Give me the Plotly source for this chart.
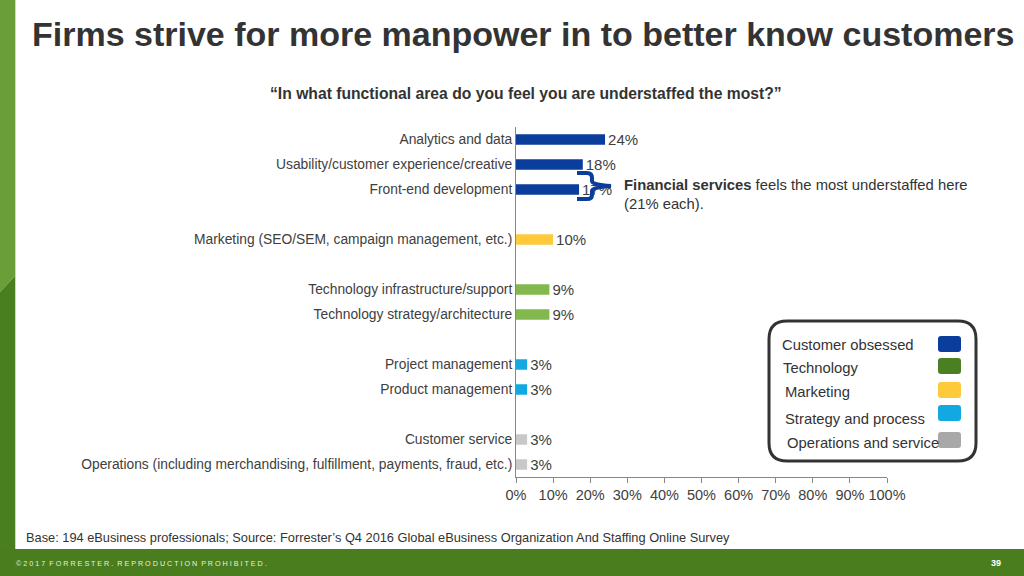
import plotly.graph_objects as go

# survey answers, top to bottom
categories = [
    "Analytics and data",
    "Usability/customer experience/creative",
    "Front-end development",
    "Marketing (SEO/SEM, campaign management, etc.)",
    "Technology infrastructure/support",
    "Technology strategy/architecture",
    "Project management",
    "Product management",
    "Customer service",
    "Operations (including merchandising, fulfillment, payments, fraud, etc.)",
]
values = [24, 18, 17, 10, 9, 9, 3, 3, 3, 3]
# 0 customer obsessed, 1 technology, 2 marketing, 3 strategy, 4 operations
groups = [0, 0, 0, 2, 1, 1, 3, 3, 4, 4]

group_names = ["Customer obsessed", "Technology", "Marketing",
               "Strategy and process", "Operations and service"]
bar_colors = ["#0a3d9c", "#82b84e", "#ffc93c", "#12a8e2", "#c8c8c8"]
legend_colors = ["#0a3d9c", "#4a7f22", "#ffc93c", "#12a8e2", "#a8a8a8"]

x_ticks = list(range(0, 101, 10))

W, H = 1024, 576


def px(x):
    return x / W


def py(y):
    return 1 - y / H


def rounded_rect(x0, y0, x1, y1, r):
    return (f"M {px(x0 + r)},{py(y0)} L {px(x1 - r)},{py(y0)} "
            f"Q {px(x1)},{py(y0)} {px(x1)},{py(y0 + r)} "
            f"L {px(x1)},{py(y1 - r)} Q {px(x1)},{py(y1)} {px(x1 - r)},{py(y1)} "
            f"L {px(x0 + r)},{py(y1)} Q {px(x0)},{py(y1)} {px(x0)},{py(y1 - r)} "
            f"L {px(x0)},{py(y0 + r)} Q {px(x0)},{py(y0)} {px(x0 + r)},{py(y0)} Z")


# rows: one empty slot between groups
y_pos = []
row = 0
for i, g in enumerate(groups):
    if i > 0 and g != groups[i - 1]:
        row += 1
    y_pos.append(row)
    row += 1
n_rows = row

fig = go.Figure()
fig.add_trace(go.Bar(
    x=values, y=y_pos, orientation="h",
    marker=dict(color=[bar_colors[g] for g in groups], line=dict(width=0)),
    width=0.42,
    text=[f"{v}%" for v in values], textposition="outside", constraintext="none",
    textfont=dict(size=15, color="#404040", family="Liberation Sans"),
    cliponaxis=False, showlegend=False,
))

shapes = []
# left stripe and bottom band
shapes.append(dict(type="path", xref="paper", yref="paper", layer="below",
                   path=f"M 0,1 L {px(15)},1 L {px(15)},{py(276)} L 0,{py(292)} Z",
                   fillcolor="#6a9e38", line=dict(width=0)))
shapes.append(dict(type="path", xref="paper", yref="paper", layer="below",
                   path=f"M 0,{py(292)} L {px(15)},{py(276)} L {px(15)},0 L 0,0 Z",
                   fillcolor="#4a7f1f", line=dict(width=0)))
shapes.append(dict(type="rect", xref="paper", yref="paper", layer="below",
                   x0=px(15), x1=px(16), y0=py(549), y1=1,
                   fillcolor="#c9ddb4", line=dict(width=0)))
shapes.append(dict(type="rect", xref="paper", yref="paper", layer="below",
                   x0=0, x1=1, y0=0, y1=py(549),
                   fillcolor="#4a7d1e", line=dict(width=0)))

# curly brace over the financial services rows
brace = (f"M {px(577)},{py(173)} L {px(587)},{py(173)} "
         f"Q {px(592)},{py(173)} {px(592)},{py(178)} L {px(592)},{py(181)} "
         f"Q {px(592)},{py(185)} {px(611)},{py(186)} "
         f"Q {px(592)},{py(187)} {px(592)},{py(191)} L {px(592)},{py(195)} "
         f"Q {px(592)},{py(199)} {px(587)},{py(199)} L {px(577)},{py(199)}")
shapes.append(dict(type="path", xref="paper", yref="paper", path=brace,
                   line=dict(color="#0a3d9c", width=4)))

# legend box
shapes.append(dict(type="path", xref="paper", yref="paper",
                   path=rounded_rect(769, 321, 976, 461, 18),
                   line=dict(color="#333333", width=3), fillcolor="rgba(0,0,0,0)"))

annotations = []
legend_rows = [(336, 345, 780), (358, 368, 781), (382, 392, 783), (405, 419, 783), (432, 443, 785)]
for k, name in enumerate(group_names):
    top, ty, tx = legend_rows[k]
    shapes.append(dict(type="path", xref="paper", yref="paper",
                       path=rounded_rect(938, top, 961, top + 16, 3),
                       fillcolor=legend_colors[k], line=dict(width=0)))
    annotations.append(dict(xref="paper", yref="paper", x=px(tx), y=py(ty),
                            xanchor="left", yanchor="middle", showarrow=False,
                            text=name, font=dict(size=14.8, color="#333333")))

annotations += [
    dict(xref="paper", yref="paper", x=px(30), y=py(34), xanchor="left", yanchor="middle",
         showarrow=False, text="<b>Firms strive for more manpower in to better know customers</b>",
         font=dict(size=34, color="#333333")),
    dict(xref="paper", yref="paper", x=px(526), y=py(94), xanchor="center", yanchor="middle",
         showarrow=False, text="<b>\u201cIn what functional area do you feel you are understaffed the most?\u201d</b>",
         font=dict(size=15.7, color="#333333")),
    dict(xref="paper", yref="paper", x=px(622), y=py(194), xanchor="left", yanchor="middle",
         showarrow=False, align="left",
         text="<b>Financial services</b> feels the most understaffed here<br>(21% each).",
         font=dict(size=14.8, color="#333333")),
    dict(xref="paper", yref="paper", x=px(24), y=py(537), xanchor="left", yanchor="middle",
         showarrow=False,
         text="Base: 194 eBusiness professionals; Source: Forrester\u2019s Q4 2016 Global eBusiness Organization And Staffing Online Survey",
         font=dict(size=12.8, color="#333333")),
    dict(xref="paper", yref="paper", x=px(14), y=py(563), xanchor="left", yanchor="middle",
         showarrow=False,
         text="\u00a9 2 0 1 7  F O R R E S T E R .  R E P R O D U C T I O N  P R O H I B I T E D .",
         font=dict(size=7.2, color="#e8f0e0")),
    dict(xref="paper", yref="paper", x=px(1003), y=py(563), xanchor="right", yanchor="middle",
         showarrow=False, text="<b>39</b>", font=dict(size=9, color="#ffffff")),
]

fig.update_layout(
    width=W, height=H,
    margin=dict(l=0, r=0, t=0, b=0),
    paper_bgcolor="white", plot_bgcolor="white",
    font=dict(family="Liberation Sans", color="#404040"),
    xaxis=dict(domain=[px(516), px(887)], range=[0, 100], tickvals=x_ticks,
               ticktext=[f"{t}%" for t in x_ticks], automargin=False,
               showgrid=False, zeroline=False, showline=True, linecolor="#888888",
               linewidth=1, ticks="outside", ticklen=5, tickcolor="#888888",
               tickfont=dict(size=14.5, color="#404040")),
    yaxis=dict(domain=[py(477), py(127)], range=[n_rows - 0.5, -0.5],
               tickvals=y_pos, ticktext=categories, automargin=False,
               showgrid=False, zeroline=False, showline=True, linecolor="#888888",
               linewidth=1, ticks="", ticklabelstandoff=0,
               tickfont=dict(size=13.8, color="#404040")),
    shapes=shapes,
    annotations=annotations,
)

fig.write_html("out.html", config={"displayModeBar": False},
               post_script="document.body.style.margin='0';document.body.style.overflow='hidden';")
